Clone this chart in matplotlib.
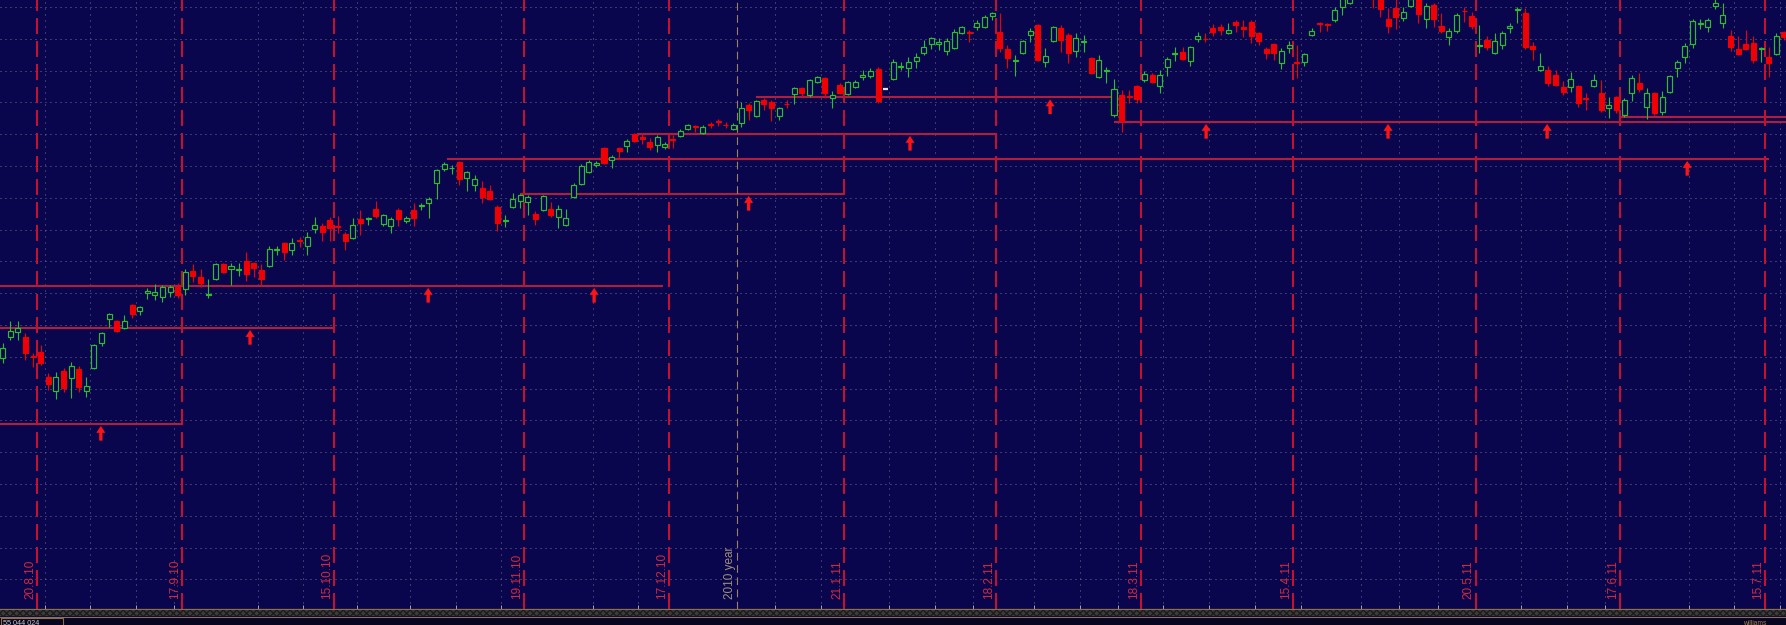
import numpy as np
import pandas as pd
import matplotlib
matplotlib.use('Agg')
import matplotlib.pyplot as plt
from matplotlib.patches import Rectangle

# trading days shown on the chart
holidays = ['2010-09-06', '2010-11-25', '2010-12-24', '2011-01-17',
            '2011-02-21', '2011-04-22', '2011-05-30', '2011-07-04']
days = pd.bdate_range('2010-08-16', '2011-07-20').drop(pd.to_datetime(holidays))

opens = [
    1074.1, 1090.6, 1094.5, 1090.6, 1075.3, 1078.8, 1059.2, 1048.2, 1063.9, 1058.4,
    1065.5, 1048.2, 1066.3, 1085.9, 1104.8, 1103.2, 1097.7, 1115.8, 1111.1, 1125.2,
    1123.6, 1122.1, 1126.0, 1129.9, 1128.4, 1142.5, 1137.8, 1123.2, 1136.2, 1148.0,
    1144.1, 1142.9, 1150.4, 1148.8, 1143.3, 1146.4, 1158.6, 1164.5, 1159.0, 1166.5,
    1162.1, 1175.5, 1177.9, 1182.6, 1177.5, 1171.6, 1168.4, 1183.4, 1183.0, 1191.2,
    1179.4, 1177.9, 1190.4, 1181.8, 1190.4, 1193.2, 1195.9, 1211.7, 1222.7, 1223.1,
    1228.2, 1215.6, 1210.1, 1207.7, 1205.4, 1192.8, 1181.4, 1192.8, 1197.5, 1196.7,
    1187.3, 1190.4, 1191.2, 1184.9, 1178.6, 1200.7, 1210.9, 1220.3, 1225.8, 1239.2,
    1229.7, 1239.2, 1240.7, 1250.2, 1247.4, 1243.9, 1241.5, 1240.0, 1246.6, 1248.6,
    1254.1, 1256.1, 1250.9, 1258.4, 1260.0, 1257.6, 1254.1, 1258.8, 1273.0, 1264.3,
    1276.9, 1275.3, 1264.3, 1274.1, 1281.6, 1286.3, 1280.8, 1291.0, 1294.2, 1278.5,
    1288.7, 1281.6, 1287.1, 1295.0, 1295.8, 1301.3, 1285.5, 1293.4, 1303.2, 1302.1,
    1307.6, 1313.8, 1320.9, 1321.3, 1315.4, 1317.8, 1329.6, 1330.0, 1334.3, 1334.3,
    1342.9, 1330.4, 1317.0, 1307.9, 1313.8, 1328.0, 1335.9, 1306.8, 1323.3, 1333.5,
    1328.0, 1315.4, 1322.1, 1309.9, 1295.0, 1299.3, 1265.1, 1280.8, 1279.7, 1287.9,
    1292.6, 1296.6, 1287.9, 1302.8, 1312.7, 1314.6, 1307.6, 1324.8, 1325.2, 1333.5,
    1334.3, 1329.6, 1338.2, 1334.3, 1338.2, 1329.6, 1317.0, 1320.9, 1306.0, 1317.8,
    1306.4, 1306.8, 1328.0, 1337.8, 1337.0, 1339.8, 1350.0, 1353.1, 1360.0, 1365.0,
    1361.0, 1357.0, 1340.6, 1349.2, 1341.4, 1350.8, 1357.0, 1340.6, 1351.6, 1335.1,
    1326.4, 1331.1, 1347.2, 1342.9, 1319.7, 1324.1, 1313.8, 1320.1, 1333.5, 1348.0,
    1345.3, 1319.3, 1300.5, 1300.5, 1296.6, 1287.1, 1287.1, 1287.9, 1278.1, 1287.9,
    1282.4, 1270.6, 1279.3, 1265.1, 1282.4, 1290.3, 1271.4, 1282.4, 1267.5, 1283.2,
    1302.1, 1310.7, 1320.9, 1337.0, 1334.3, 1350.8, 1337.4, 1327.2, 1317.0, 1320.9,
    1321.7, 1316.6, 1310.7, 1313.1, 1330.4]

highs = [
    1085.9, 1103.2, 1103.2, 1093.8, 1078.0, 1084.3, 1062.3, 1063.1, 1066.2, 1071.0,
    1067.8, 1059.2, 1085.1, 1094.5, 1109.5, 1104.0, 1107.9, 1116.6, 1115.0, 1129.1,
    1132.3, 1131.5, 1131.5, 1133.1, 1144.1, 1148.0, 1144.1, 1136.2, 1148.8, 1148.8,
    1148.8, 1148.8, 1157.4, 1149.6, 1148.0, 1162.1, 1162.1, 1164.9, 1168.4, 1169.2,
    1173.2, 1184.9, 1180.2, 1184.9, 1185.7, 1173.2, 1184.1, 1190.4, 1184.9, 1197.5,
    1187.3, 1184.9, 1192.0, 1185.7, 1195.9, 1195.9, 1200.7, 1222.7, 1228.2, 1225.8,
    1229.0, 1221.1, 1217.9, 1213.2, 1210.1, 1194.4, 1186.5, 1203.8, 1203.0, 1202.2,
    1189.7, 1202.2, 1196.7, 1194.4, 1191.2, 1211.7, 1226.6, 1229.7, 1229.0, 1240.0,
    1233.7, 1240.0, 1246.2, 1250.9, 1250.9, 1247.0, 1249.4, 1243.9, 1249.4, 1254.1,
    1258.0, 1257.3, 1257.3, 1259.6, 1262.0, 1259.6, 1258.8, 1275.3, 1274.5, 1276.9,
    1278.5, 1276.9, 1271.4, 1276.9, 1287.1, 1287.1, 1293.4, 1295.8, 1295.0, 1284.0,
    1290.3, 1291.8, 1292.6, 1300.5, 1302.1, 1302.8, 1285.5, 1309.1, 1306.8, 1310.7,
    1313.8, 1324.1, 1326.4, 1325.6, 1325.6, 1332.7, 1335.1, 1331.9, 1339.8, 1343.7,
    1346.1, 1345.3, 1320.1, 1312.3, 1324.1, 1333.5, 1336.6, 1317.8, 1335.1, 1335.9,
    1329.6, 1329.6, 1328.0, 1310.7, 1312.3, 1302.8, 1293.4, 1284.8, 1284.8, 1288.7,
    1299.7, 1298.1, 1300.5, 1310.7, 1318.6, 1318.6, 1319.3, 1330.4, 1329.6, 1336.6,
    1336.6, 1337.4, 1339.8, 1339.8, 1339.8, 1330.4, 1318.6, 1321.7, 1317.8, 1323.3,
    1320.1, 1313.8, 1333.5, 1338.2, 1337.4, 1350.0, 1360.0, 1364.0, 1364.5, 1370.6,
    1362.0, 1359.0, 1349.2, 1357.0, 1350.0, 1358.0, 1358.0, 1353.1, 1353.1, 1345.3,
    1333.5, 1345.3, 1350.0, 1346.1, 1335.9, 1327.2, 1329.6, 1331.1, 1337.4, 1350.0,
    1349.2, 1322.5, 1313.8, 1303.6, 1300.5, 1291.8, 1298.9, 1288.7, 1282.4, 1297.3,
    1292.6, 1279.3, 1280.0, 1278.5, 1296.6, 1298.1, 1286.3, 1283.2, 1284.0, 1296.6,
    1308.3, 1321.7, 1340.6, 1340.6, 1341.4, 1356.0, 1353.1, 1331.9, 1327.2, 1331.9,
    1327.2, 1318.6, 1318.6, 1329.6, 1331.1]

lows = [
    1070.2, 1088.3, 1088.3, 1072.5, 1067.0, 1068.6, 1049.0, 1041.9, 1047.4, 1042.7,
    1047.4, 1043.5, 1065.5, 1083.5, 1098.5, 1094.5, 1096.9, 1105.5, 1107.9, 1120.5,
    1119.7, 1118.1, 1122.1, 1121.3, 1123.6, 1133.9, 1129.9, 1121.3, 1135.4, 1140.9,
    1131.5, 1138.6, 1134.6, 1137.8, 1130.7, 1145.6, 1155.1, 1151.1, 1155.1, 1161.4,
    1155.1, 1172.4, 1166.1, 1166.1, 1172.4, 1159.0, 1167.6, 1170.8, 1178.6, 1184.1,
    1177.9, 1172.4, 1177.9, 1180.2, 1177.9, 1190.4, 1184.1, 1199.1, 1221.1, 1218.7,
    1210.1, 1205.4, 1205.4, 1195.9, 1198.3, 1173.9, 1177.1, 1192.0, 1192.0, 1186.5,
    1178.6, 1189.7, 1184.9, 1176.3, 1177.9, 1199.9, 1210.1, 1219.5, 1224.2, 1226.6,
    1223.4, 1230.5, 1236.0, 1243.9, 1242.3, 1237.6, 1236.0, 1238.4, 1239.2, 1247.8,
    1253.3, 1251.7, 1250.2, 1254.9, 1256.5, 1254.9, 1253.3, 1255.7, 1261.2, 1263.5,
    1269.0, 1260.4, 1261.2, 1270.6, 1273.8, 1279.3, 1279.3, 1290.3, 1278.5, 1270.6,
    1281.6, 1280.8, 1286.3, 1292.6, 1294.2, 1274.5, 1285.5, 1292.6, 1300.5, 1295.0,
    1302.1, 1312.3, 1317.0, 1316.2, 1312.3, 1317.0, 1328.8, 1322.5, 1331.9, 1333.5,
    1339.8, 1314.6, 1302.1, 1295.8, 1313.1, 1322.5, 1307.6, 1302.8, 1322.5, 1314.6,
    1306.0, 1310.7, 1314.6, 1297.3, 1294.2, 1290.3, 1263.5, 1251.7, 1274.5, 1274.5,
    1291.0, 1290.3, 1282.4, 1295.8, 1307.6, 1308.3, 1303.6, 1322.5, 1322.5, 1327.2,
    1328.0, 1328.8, 1330.4, 1326.4, 1321.7, 1320.1, 1309.1, 1308.3, 1301.3, 1313.8,
    1294.2, 1303.6, 1327.2, 1330.4, 1331.1, 1338.2, 1343.7, 1352.0, 1357.0, 1358.5,
    1349.2, 1342.1, 1329.6, 1332.7, 1339.0, 1350.0, 1337.4, 1333.5, 1334.3, 1329.6,
    1320.1, 1329.6, 1338.2, 1332.7, 1313.8, 1316.2, 1313.1, 1317.0, 1329.6, 1337.4,
    1317.0, 1308.3, 1299.7, 1287.9, 1287.9, 1280.8, 1283.2, 1271.4, 1269.0, 1287.1,
    1267.5, 1262.8, 1266.7, 1263.5, 1276.1, 1283.2, 1262.0, 1265.1, 1265.1, 1282.4,
    1295.0, 1306.0, 1317.8, 1332.7, 1330.4, 1348.4, 1333.5, 1315.4, 1312.3, 1316.2,
    1306.0, 1306.8, 1295.0, 1312.3, 1324.1]

closes = [
    1081.9, 1095.3, 1097.7, 1078.0, 1074.5, 1070.2, 1053.7, 1059.2, 1050.5, 1067.8,
    1051.3, 1052.1, 1084.3, 1093.8, 1108.7, 1095.3, 1103.2, 1108.7, 1114.2, 1126.8,
    1126.0, 1129.9, 1129.9, 1123.6, 1141.7, 1138.6, 1133.1, 1124.0, 1148.0, 1141.7,
    1146.4, 1143.7, 1140.1, 1144.9, 1136.2, 1159.8, 1159.4, 1157.4, 1164.5, 1165.7,
    1169.2, 1178.6, 1173.2, 1176.3, 1176.7, 1166.1, 1178.6, 1180.2, 1183.8, 1185.7,
    1186.5, 1183.4, 1183.4, 1184.1, 1184.1, 1194.0, 1199.1, 1221.9, 1226.6, 1223.8,
    1214.8, 1220.3, 1214.8, 1200.7, 1199.1, 1180.2, 1182.2, 1199.1, 1202.2, 1200.7,
    1183.4, 1201.4, 1186.5, 1191.2, 1184.1, 1210.1, 1225.0, 1228.2, 1227.4, 1227.4,
    1232.1, 1236.8, 1244.7, 1244.7, 1246.6, 1240.0, 1247.8, 1242.3, 1245.8, 1252.5,
    1257.3, 1255.3, 1255.7, 1257.6, 1259.2, 1256.9, 1257.3, 1270.6, 1269.0, 1276.1,
    1273.8, 1270.6, 1270.6, 1273.4, 1286.3, 1282.4, 1292.6, 1295.0, 1282.4, 1280.8,
    1282.4, 1291.0, 1291.0, 1296.6, 1299.7, 1276.1, 1285.5, 1306.8, 1304.0, 1306.8,
    1310.7, 1318.6, 1325.6, 1322.1, 1323.3, 1330.4, 1334.3, 1329.2, 1337.4, 1342.1,
    1345.3, 1317.8, 1309.9, 1308.7, 1323.3, 1331.1, 1308.3, 1311.5, 1334.3, 1324.1,
    1313.8, 1325.6, 1322.9, 1298.1, 1308.3, 1300.1, 1285.5, 1260.4, 1278.9, 1277.7,
    1297.3, 1291.0, 1296.6, 1309.1, 1313.5, 1309.1, 1318.6, 1327.2, 1324.5, 1330.4,
    1331.9, 1331.9, 1335.9, 1332.7, 1327.2, 1323.3, 1313.8, 1313.8, 1315.4, 1320.1,
    1305.6, 1313.1, 1331.1, 1337.0, 1336.2, 1347.6, 1357.0, 1360.0, 1363.6, 1361.0,
    1356.5, 1348.4, 1335.1, 1342.1, 1346.1, 1356.5, 1344.5, 1350.8, 1340.6, 1331.1,
    1331.1, 1343.7, 1346.5, 1335.1, 1320.5, 1318.6, 1323.3, 1329.6, 1335.1, 1348.8,
    1318.6, 1317.0, 1303.6, 1290.3, 1288.7, 1283.2, 1293.4, 1274.5, 1277.3, 1292.6,
    1269.0, 1273.0, 1269.0, 1276.9, 1294.2, 1285.5, 1282.4, 1266.7, 1279.3, 1295.8,
    1306.8, 1319.3, 1339.0, 1337.8, 1339.8, 1353.1, 1343.7, 1318.6, 1313.1, 1317.0,
    1308.3, 1317.4, 1306.0, 1327.2, 1326.4]

# the one bar drawn as a white dash
white_day = '2011-01-31'

expiry_days = ['2010-08-20', '2010-09-17', '2010-10-15', '2010-11-19', '2010-12-17',
               '2011-01-21', '2011-02-18', '2011-03-18', '2011-04-15', '2011-05-20',
               '2011-06-17', '2011-07-15']
expiry_labels = ['20.8.10', '17.9.10', '15.10.10', '19.11.10', '17.12.10', '21.1.11',
                 '18.2.11', '18.3.11', '15.4.11', '20.5.11', '17.6.11', '15.7.11']
year_day = '2010-12-31'
year_label = '2010 year'

# horizontal levels (price, from bar, to bar)
levels = [1022.2, 1097.6, 1130.7, 1203.0, 1230.5, 1250.2, 1278.9, 1259.6, 1263.8]
level_from = [-1, -1, -1, 68.0, 58.4, 83.3, 99.0, 146.0, 212.3]
level_to = [23.5, 43.5, 86.75, 110.5, 232.1, 130.4, 145.9, 236, 236]

arrow_bars = [12.9, 32.5, 55.9, 77.7, 98.0, 119.2, 137.6, 158.1, 182.0, 202.9, 221.3]
arrow_levels = [1022.2, 1097.6, 1130.7, 1130.7, 1203.0, 1250.2, 1278.9,
                1259.6, 1259.6, 1259.6, 1230.5]

# dotted grid
grid_bars = [5.5, 11.5, 17.5, 22.5, 33.5, 39.5, 46.5, 53.5, 59.5, 65.5, 77.5, 83.5,
             101.5, 107.5, 116.5, 122.5, 127.5, 135.5, 141.5, 146.5, 152.5, 158.5,
             164.5, 170.5, 178.5, 183.5, 188.5, 199.5, 205.5, 210.5, 221.5, 227.5, 233.5]
grid_prices = np.arange(900, 1351, 25)

status_text = '55 044 024'
corner_text = 'williams'

BG = '#0a064e'
GREEN = '#2cbe2c'
RED = '#f00000'
LEVEL = '#b01e3e'
VLINE = '#c8102e'
LABEL = '#d42a3c'
TAN = '#8c7048'
GRID = '#6c6c8c'

W, H = 1786, 625
fig = plt.figure(figsize=(W / 100, H / 100), dpi=100)
fig.patch.set_facecolor(BG)
ax = fig.add_axes([0, 16 / H, 1, 609 / H])
ax.set_facecolor(BG)
ax.set_xlim(-0.347, 234.28)
ax.set_ylim(876.7, 1355.5)

ax.set_xticks(grid_bars)
ax.set_yticks(grid_prices)
ax.tick_params(axis='x', direction='in', length=3, width=0.72, color='#a0a0a0',
               labelbottom=False)
ax.tick_params(axis='y', length=0, labelleft=False)
ax.xaxis.grid(True, color=GRID, lw=0.72, ls=(0, (1, 5)))
ax.yaxis.grid(True, color=GRID, lw=0.72, ls=(0, (1, 4)))
ax.set_axisbelow(True)
for s in ['top', 'left', 'right']:
    ax.spines[s].set_visible(False)
ax.spines['bottom'].set_color(TAN)
ax.spines['bottom'].set_linewidth(0.9)

idx = {d: i for i, d in enumerate(days.strftime('%Y-%m-%d'))}

# levels
ax.hlines(levels, level_from, level_to, colors=LEVEL, lw=1.5, zorder=2)

# month lines with labels
for d, lbl in zip(expiry_days, expiry_labels):
    xl = idx[d] + 0.5
    ax.axvline(xl, color=VLINE, lw=1.44, ls=(0, (8, 3.5)), zorder=2)
    ax.annotate(lbl, xy=(xl, 0), xycoords=('data', 'axes fraction'),
                xytext=(-0.6, 7.2), textcoords='offset points', rotation=90,
                ha='right', va='bottom', color=LABEL, fontsize=8.5,
                family='Liberation Sans')
xy_ = idx[year_day] + 0.5
ax.axvline(xy_, color='#9a8262', lw=0.8, ls=(0, (7, 4)), zorder=2)
ax.annotate(year_label, xy=(xy_, 0), xycoords=('data', 'axes fraction'),
            xytext=(-0.6, 7.2), textcoords='offset points', rotation=90,
            ha='right', va='bottom', color='#a09078', fontsize=8.5,
            family='Liberation Sans')

# candles
o = np.array(opens)
h = np.array(highs)
l = np.array(lows)
c = np.array(closes)
x = np.arange(len(days))
keep = np.ones(len(x), bool)
keep[idx[white_day]] = False
up = c >= o
col = np.where(up, GREEN, RED)
ax.vlines(x[keep], l[keep], h[keep], colors=col[keep], lw=0.8, zorder=4)
lo = np.minimum(o, c)
hgt = np.maximum(np.abs(c - o), 0.6)
ax.bar(x[keep], hgt[keep], bottom=lo[keep], width=0.66,
       color=np.where(up, BG, RED)[keep], edgecolor=col[keep], linewidth=0.85, zorder=5)
wi = idx[white_day]
ax.hlines(c[wi], wi - 0.33, wi + 0.33, colors='#e0e0e0', lw=1.6, zorder=5)

# arrows under the levels
for xa, ya in zip(arrow_bars, arrow_levels):
    ax.annotate('', xy=(xa, ya), xytext=(0, -12), textcoords='offset points',
                arrowprops=dict(arrowstyle='simple,head_width=0.65,head_length=0.5,tail_width=0.24',
                                mutation_scale=10, color='#ff1414', lw=0,
                                shrinkA=0, shrinkB=1.4),
                zorder=6)

# status strip under the chart
ax2 = fig.add_axes([0, 0, 1, 16 / H])
ax2.set_xlim(0, W)
ax2.set_ylim(H, 609)
ax2.axis('off')
ax2.add_patch(Rectangle((0, 609.8), W, 6.6, facecolor='#3c3c3c', edgecolor='#1c1c1c',
                        hatch='xxxxx', lw=0))
ax2.plot([0, W], [616.7, 616.7], color=TAN, lw=0.8)
ax2.add_patch(Rectangle((0, 617.2), W, 8, facecolor='#07051f', lw=0))
ax2.add_patch(Rectangle((0.5, 617.8), 62, 10, fill=False, edgecolor=TAN, lw=0.8))
ax2.text(3, 624.6, status_text, color='#c8c8c8', fontsize=5.2, va='baseline',
         family='Liberation Sans')
ax2.text(1743, 624.6, corner_text, color='#a08050', fontsize=4.8, va='baseline',
         family='Liberation Sans')

fig.savefig('out.png', dpi=100, facecolor=fig.get_facecolor())
